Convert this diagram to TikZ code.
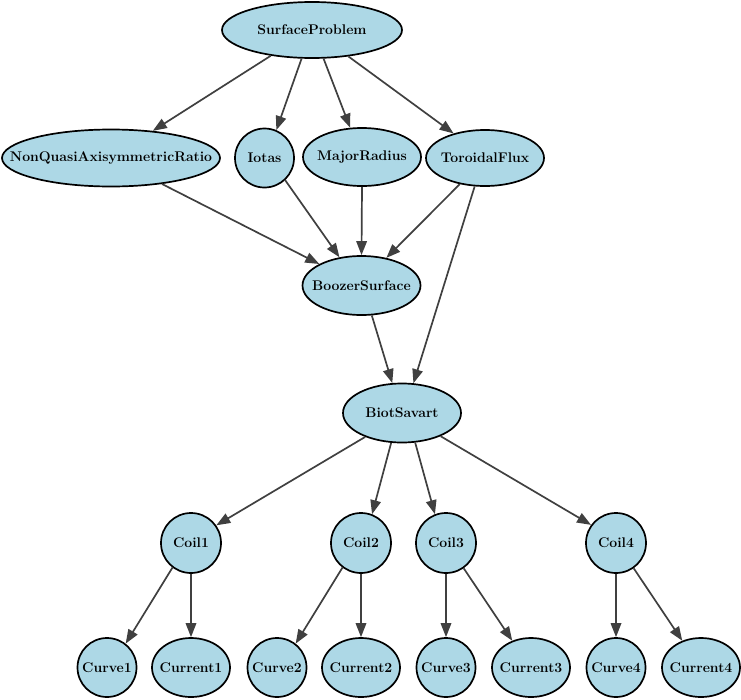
\documentclass[tikz,border=0pt]{standalone}
\usetikzlibrary{shapes.geometric,arrows.meta}
\definecolor{nodefill}{HTML}{ADD8E6}
\definecolor{edgecol}{HTML}{404040}
\newcommand{\zw}[1]{\makebox[0pt]{#1}}
\begin{document}
\begin{tikzpicture}[x=1pt,y=-1pt,
  base/.style={draw=black,line width=1.7pt,fill=nodefill,inner sep=0pt,
    font=\fontsize{14}{16}\selectfont\bfseries},
  ell/.style={base,ellipse},
  circ/.style={base,circle},
  edge/.style={draw=edgecol,line width=1.7pt,-{Triangle[length=14pt,width=10.5pt]}}]
\useasboundingbox (0,0) rectangle (741,699);
% nodes
\node[ell,minimum width=180pt,minimum height=56pt] (sp) at (312,30) {\zw{SurfaceProblem}};
\node[ell,minimum width=218pt,minimum height=57pt] (nq) at (111,158) {\zw{NonQuasiAxisymmetricRatio}};
\node[circ,minimum size=59pt] (io) at (264.5,158) {\zw{Iotas}};
\node[ell,minimum width=118pt,minimum height=58pt] (mr) at (362,157) {\zw{MajorRadius}};
\node[ell,minimum width=118pt,minimum height=56pt] (tf) at (485,158) {\zw{ToroidalFlux}};
\node[ell,minimum width=118pt,minimum height=59pt] (bz) at (361.5,285.5) {\zw{BoozerSurface}};
\node[ell,minimum width=118pt,minimum height=59pt] (bt) at (402,413) {\zw{BiotSavart}};
\node[circ,minimum size=60pt] (c1) at (191,543) {\zw{Coil1}};
\node[circ,minimum size=60pt] (c2) at (361,543) {\zw{Coil2}};
\node[circ,minimum size=60pt] (c3) at (446,543) {\zw{Coil3}};
\node[circ,minimum size=60pt] (c4) at (616,543) {\zw{Coil4}};
\node[circ,minimum size=59pt] (v1) at (107,667.5) {\zw{Curve1}};
\node[ell,minimum width=78pt,minimum height=59pt] (i1) at (191,667.5) {\zw{Current1}};
\node[circ,minimum size=59pt] (v2) at (277,667.5) {\zw{Curve2}};
\node[ell,minimum width=78pt,minimum height=59pt] (i2) at (361,667.5) {\zw{Current2}};
\node[circ,minimum size=59pt] (v3) at (446,667.5) {\zw{Curve3}};
\node[ell,minimum width=78pt,minimum height=59pt] (i3) at (531,667.5) {\zw{Current3}};
\node[circ,minimum size=59pt] (v4) at (616,667.5) {\zw{Curve4}};
\node[ell,minimum width=78pt,minimum height=59pt] (i4) at (701,667.5) {\zw{Current4}};
% edges
\draw[edge] (sp.212.5) -- (nq.33);
\draw[edge] (sp.250) -- (io.67);
\draw[edge] (sp.292) -- (mr.112);
\draw[edge] (sp.324) -- (tf.142);
\draw[edge] (nq.333) -- (bz.153);
\draw[edge] (io.313) -- (bz.128);
\draw[edge] (mr.270) -- (bz.90);
\draw[edge] (tf.226) -- (bz.48);
\draw[edge] (tf.250) -- (bt.69);
\draw[edge] (bz.289) -- (bt.108);
\draw[edge] (bt.213) -- (c1.35.5);
\draw[edge] (bt.250) -- (c2.69);
\draw[edge] (bt.294) -- (c3.111);
\draw[edge] (bt.329) -- (c4.144.5);
\draw[edge] (c1.233) -- (v1.52.6);
\draw[edge] (c1.270) -- (i1.90);
\draw[edge] (c2.233) -- (v2.52.6);
\draw[edge] (c2.270) -- (i2.90);
\draw[edge] (c3.270) -- (v3.90);
\draw[edge] (c3.305) -- (i3.125);
\draw[edge] (c4.270) -- (v4.90);
\draw[edge] (c4.305) -- (i4.125);
\end{tikzpicture}
\end{document}
